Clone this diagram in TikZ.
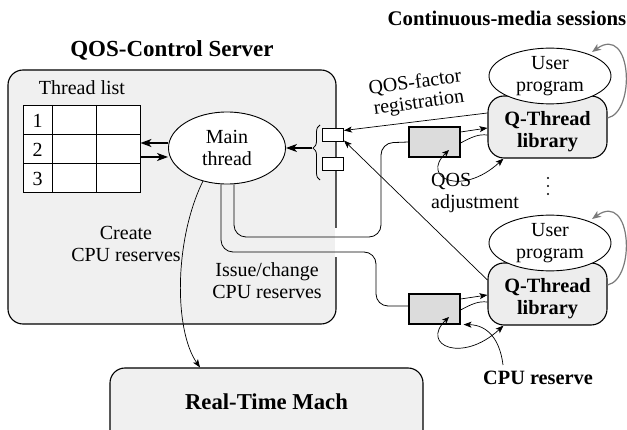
\documentclass[tikz,border=0pt]{standalone}
\usepackage{fontspec}
\setmainfont{Liberation Serif}
\usetikzlibrary{arrows.meta,decorations.pathreplacing,shapes.geometric,calc}

\definecolor{panel}{HTML}{F0F0F0}
\definecolor{libfill}{HTML}{EDEDED}
\definecolor{resfill}{HTML}{DCDCDC}
\definecolor{loopgray}{HTML}{7A7A7A}

\tikzset{
  txt/.style={font=\fontsize{20}{22}\selectfont, align=center, inner sep=0pt},
  btxt/.style={font=\fontsize{20.3}{22}\selectfont\bfseries, align=center, inner sep=0pt},
  bigtxt/.style={font=\fontsize{23}{26}\selectfont\bfseries, align=center, inner sep=0pt},
  panelbox/.style={draw, line width=1.1pt, fill=panel, rounded corners=15pt, inner sep=0pt},
  libbox/.style={draw, line width=1.1pt, fill=libfill, rounded corners=16pt, inner sep=0pt,
                 minimum width=119pt, minimum height=62pt},
  progell/.style={draw, line width=0.9pt, fill=white, ellipse, inner sep=0pt,
                  minimum width=122pt, minimum height=55pt},
  resbox/.style={draw, line width=1.1pt, fill=resfill, inner sep=0pt,
                 minimum width=51pt, minimum height=30pt},
  slot/.style={draw, line width=0.9pt, fill=white, inner sep=0pt,
               minimum width=21pt, minimum height=13pt},
  thin/.style={line width=0.7pt},
  wire/.style={line width=0.8pt, rounded corners=12pt},
  tip/.style={-{Stealth[length=8pt,width=6pt,inset=2pt]}},
  bigtip/.style={line width=1.3pt, -{Stealth[length=11pt,width=8pt,inset=3pt]}},
  selfloop/.style={draw=loopgray, line width=1.2pt, -{Stealth[length=9pt,width=7pt,inset=2.5pt]}},
}

\begin{document}
\begin{tikzpicture}[x=1pt,y=-1pt]
\useasboundingbox (0,0) rectangle (627,430);
\begin{scope}
\clip (0,0) rectangle (627,430);

% QOS-Control Server
\node[bigtxt] (title) at (172,50) {QOS-Control Server};
\node[panelbox, minimum width=328pt, minimum height=254pt] (server) at (172,197) {};
\node[txt] (tlabel) at (82,88) {Thread list};

% thread table
\node[draw, line width=0.9pt, fill=white, minimum width=117pt, minimum height=87pt, inner sep=0pt] (tlist) at (81.5,148.5) {};
\draw[line width=0.9pt] (52,105) -- (52,192) (96,105) -- (96,192)
      (23,134) -- (140,134) (23,163) -- (140,163);
\node[txt] (r1) at (37.5,120.5) {1};
\node[txt] (r2) at (37.5,149.5) {2};
\node[txt] (r3) at (37.5,178.5) {3};

% main thread
\node[draw, line width=0.9pt, fill=white, ellipse, inner sep=0pt, minimum width=117pt, minimum height=72pt, txt] (main) at (227,148) {Main\\thread};
\draw[bigtip] ([yshift=5pt]main.west) -- ([yshift=5pt]main.west -| tlist.east);
\draw[bigtip] ([yshift=-9pt]main.west -| tlist.east) -- ([yshift=-9pt]main.west);

% registration slots on the server edge
\node[slot] (sb1) at (333,134.5) {};
\node[slot] (sb2) at (333,163.5) {};
\draw[line width=0.8pt, decorate, decoration={brace, amplitude=7pt, aspect=0.58}] (320,180) -- (320,125);
\coordinate (btip) at (312,148);
\draw[bigtip, line width=1.1pt] (btip) -- (main.east);

% user programs and Q-Thread libraries
\node[libbox] (ulib) at (547.5,127) {};
\node[progell, txt] (uprog) at (550,76) {User\\program};
\node[btxt] at (ulib.center) [yshift=-5pt] {Q-Thread\\library};
\node[libbox] (llib) at (547.5,294) {};
\node[progell, txt] (lprog) at (550,243) {User\\program};
\node[btxt] at (llib.center) [yshift=-5pt] {Q-Thread\\library};

\node[btxt, font=\fontsize{20.8}{23}\selectfont\bfseries] (cms) at (507,18) {Continuous-media sessions};

% vertical ellipsis between the two sessions
\foreach \yy in {178,186,194} \fill (548,\yy) circle (1.1pt);

% session self loops
\draw[selfloop] ([yshift=9pt]ulib.east) .. controls (636,112) and (632,24) .. (592,52);
\draw[selfloop] ([yshift=9pt]llib.east) .. controls (636,279) and (632,191) .. (592,219);

% CPU reserve boxes
\node[resbox] (gbox1) at (434.5,142) {};
\node[resbox] (gbox2) at (434.5,309) {};

% box-to-library links
\draw[thin, tip] ([yshift=10pt]gbox1.east) -- ([yshift=-1pt]ulib.west);
\draw[thin] ([yshift=-1pt]gbox1.east) .. controls (472,137) and (478,134) .. ([yshift=-8pt]ulib.west);
\draw[thin, tip] ([yshift=10pt]gbox2.east) -- ([yshift=-1pt]llib.west);
\draw[thin] ([yshift=-1pt]gbox2.east) .. controls (472,304) and (478,301) .. ([yshift=-8pt]llib.west);

% QOS adjustment loops
\draw[thin, {Stealth[length=7pt,width=6pt,inset=2pt]}-{Stealth[length=8pt,width=6pt,inset=2pt]}]
  (449,150) .. controls (420,178) and (462,197) .. ([xshift=-44pt]ulib.south);
\draw[thin, {Stealth[length=7pt,width=6pt,inset=2pt]}-{Stealth[length=8pt,width=6pt,inset=2pt]}]
  (449,317) .. controls (420,345) and (462,364) .. ([xshift=-44pt]llib.south);

\node[txt, align=left, anchor=west] (qadj) at (431,193) {QOS\\adjustment};

% CPU reserve label
\node[btxt] (cpu) at (538,378) {CPU reserve};
\draw[thin, tip] ([xshift=-35pt,yshift=6pt]cpu.north) .. controls (500,340) and (488,325) .. ([xshift=3pt]gbox2.south east);

% registration arrows
\node[txt, rotate=8] (reglbl1) at (415,83) {QOS-factor};
\node[txt, rotate=8] (reglbl2) at (419,104) {registration};
\draw[thin, tip] ([yshift=14pt]ulib.west) -- ([yshift=4pt]sb1.east);
\draw[thin, tip] ([yshift=14pt]llib.west) -- ([yshift=-6pt]sb1.east);

% gap in the server outline where the wires leave
\fill[white] (334.6,228) rectangle (337.6,257);

% reserve wires from the main thread
\draw[wire] ([xshift=-6pt]main.south) -- (221,252) -- (376,252) -- (376,306) -- ([yshift=3pt]gbox2.west);
\draw[wire] ([xshift=7pt]main.south) -- (234,237) -- (381,237) -- (381,143) -- (gbox1.west);

\node[txt] (crlbl) at (126,244) {Create\\CPU reserves};
\node[txt] (islbl) at (267,281) {Issue/change\\CPU reserves};

% Real-Time Mach
\node[panelbox, minimum width=313pt, minimum height=90pt] (rtm) at (266.5,413) {};
\node[font=\fontsize{22.7}{24}\selectfont\bfseries, inner sep=0pt] (rtmlbl) at (266.5,402) {Real-Time Mach};

\draw[thin, tip] (203,181) .. controls (174,240) and (174,330) .. ([xshift=-66.5pt]rtm.north);
\end{scope}
\end{tikzpicture}
\end{document}
